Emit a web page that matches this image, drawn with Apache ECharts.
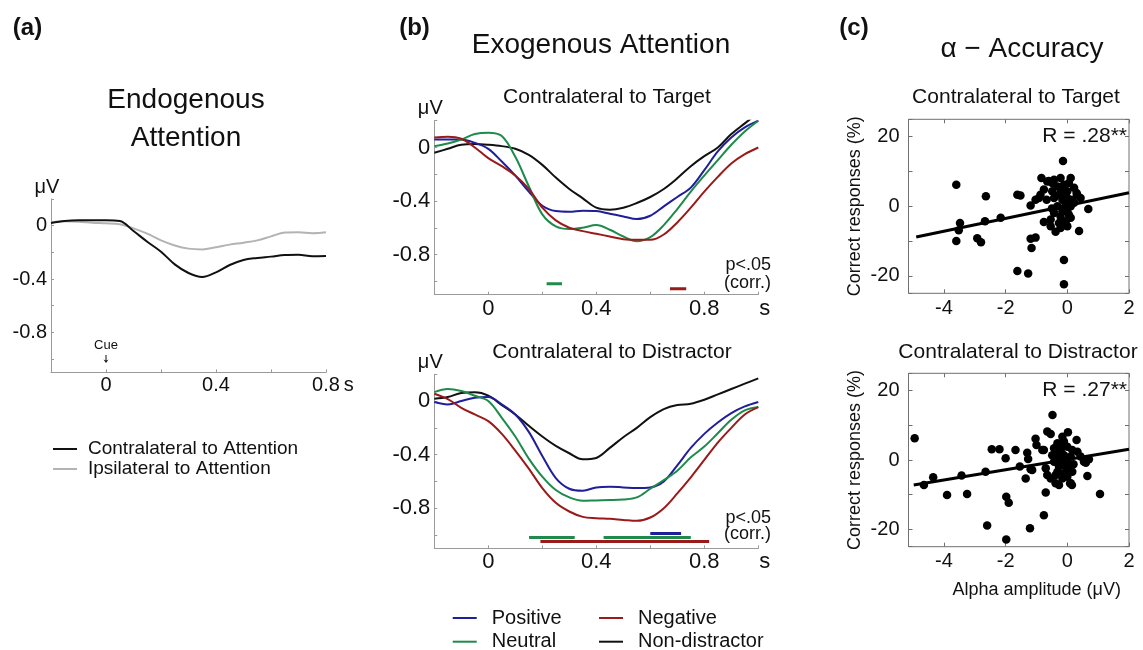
<!DOCTYPE html>
<html><head><meta charset="utf-8">
<script src="https://cdn.jsdelivr.net/npm/echarts@6/dist/echarts.min.js"></script>
<style>html,body{margin:0;padding:0;background:#fff}#c{width:1143px;height:650px}</style>
</head><body><div id="c"></div>
<script>
// ---------- DATA ----------
const timeA = [-0.2,-0.15,-0.1,-0.05,0,0.05,0.1,0.15,0.2,0.25,0.3,0.35,0.4,0.45,0.5,0.55,0.6,0.65,0.7,0.75,0.8];
const contraAttention = [0.02,0.035,0.04,0.04,0.04,0.035,-0.04,-0.12,-0.195,-0.29,-0.355,-0.385,-0.35,-0.295,-0.257,-0.242,-0.232,-0.22,-0.218,-0.23,-0.228];
const ipsiAttention = [0.025,0.033,0.03,0.022,0.018,0.01,-0.02,-0.06,-0.11,-0.148,-0.172,-0.178,-0.162,-0.142,-0.128,-0.11,-0.08,-0.052,-0.05,-0.057,-0.05];
const cueTime = [0];

const timeB = [-0.2,-0.15,-0.1,-0.05,0,0.05,0.1,0.15,0.2,0.25,0.3,0.35,0.4,0.45,0.5,0.55,0.6,0.65,0.7,0.75,0.8,0.85,0.9,0.95,1.0];
const targetPositive = [0.06,0.06,0.06,0.035,-0.01,-0.105,-0.21,-0.33,-0.435,-0.475,-0.48,-0.472,-0.475,-0.495,-0.515,-0.535,-0.51,-0.44,-0.37,-0.3,-0.17,-0.03,0.075,0.15,0.2];
const targetNeutral = [0.01,0.03,0.06,0.1,0.11,0.085,-0.07,-0.29,-0.5,-0.59,-0.61,-0.6,-0.58,-0.615,-0.665,-0.7,-0.67,-0.58,-0.46,-0.33,-0.21,-0.095,0.02,0.12,0.2];
const targetNegative = [0.075,0.08,0.065,0.0,-0.08,-0.14,-0.21,-0.31,-0.45,-0.545,-0.6,-0.625,-0.645,-0.665,-0.685,-0.69,-0.69,-0.65,-0.56,-0.45,-0.33,-0.22,-0.12,-0.05,0.0];
const targetNonDistractor = [-0.04,-0.01,0.02,0.025,0.02,0.01,-0.01,-0.055,-0.13,-0.225,-0.31,-0.38,-0.45,-0.465,-0.45,-0.415,-0.37,-0.31,-0.23,-0.14,-0.065,0.0,0.1,0.18,0.26];

const distractorPositive = [-0.007,-0.025,0.0,0.025,0.03,-0.025,-0.1,-0.23,-0.41,-0.575,-0.655,-0.67,-0.645,-0.64,-0.645,-0.65,-0.645,-0.6,-0.48,-0.35,-0.245,-0.16,-0.09,-0.04,-0.007];
const distractorNeutral = [0.067,0.09,0.075,0.04,0.0,-0.125,-0.265,-0.43,-0.565,-0.665,-0.72,-0.745,-0.742,-0.74,-0.735,-0.72,-0.655,-0.59,-0.52,-0.42,-0.34,-0.24,-0.14,-0.07,-0.045];
const distractorNegative = [0.055,0.015,-0.05,-0.1,-0.15,-0.245,-0.37,-0.505,-0.65,-0.76,-0.825,-0.865,-0.875,-0.88,-0.888,-0.895,-0.87,-0.8,-0.69,-0.57,-0.44,-0.31,-0.2,-0.1,-0.045];
const distractorNonDistractor = [0.017,0.03,0.06,0.065,0.04,-0.03,-0.1,-0.185,-0.265,-0.335,-0.39,-0.435,-0.425,-0.35,-0.27,-0.2,-0.12,-0.06,-0.03,-0.02,0.01,0.05,0.09,0.13,0.17];

// significant time windows (s)
const sigTargetNeutral = [0.216, 0.273];
const sigTargetNegative = [0.673, 0.733];
const sigDistractorNeutralEarly = [0.151, 0.32];
const sigDistractorNeutralLate = [0.427, 0.75];
const sigDistractorPositive = [0.6, 0.714];
const sigDistractorNegative = [0.193, 0.818];

// alpha amplitude (µV) vs correct responses (%)
const alphaTarget = [
[-3.6,6.2],[-2.64,2.9],[-1.62,3.3],[-1.52,3.1],[-3.48,-4.8],[-3.52,-6.9],[-3.6,-10],[-2.92,-9.2],[-2.8,-10.3],[-2.67,-4.3],[-2.16,-3.3],[-1.19,0.2],[-1.19,-9.3],[-1.03,-9],[-1.16,-12],[-1.62,-18.6],[-1.27,-19.3],[-0.11,-15.4],[-0.11,-22.4],[0.68,-0.8],[0.38,-7.1],[-0.14,13],
[-0.84,8.1],[-0.6,7.3],[-0.43,7.6],[-0.22,8.1],[0.11,8.1],[-0.76,4.8],[-0.92,2.4],[-1.03,1.9],[-0.67,1.9],[-0.49,4.3],[-0.32,5.7],[-0.11,6.2],[0,4.3],[0.22,5.3],[0.32,3.3],[0.43,2.4],[0.16,1.9],[-0.16,1.9],[-0.32,0],[-0.11,-0.5],[0.11,0],[-0.43,-1.9],[-0.22,-2.9],[0.05,-2.4],[-0.54,-3.8],[-0.27,-4.8],[-0.05,-4.3],[0.11,-3.3],[-0.76,-4.5],[-0.54,-5.7],[-0.22,-6.2],[0,-5.7],[-0.38,-7.3],[-0.87,3.3],[0,2.4],[0.22,1],[-0.43,2.4],[-0.27,3.3],[-0.11,3.3],[-0.22,5.2],[0.05,6.7],[-0.16,-1.5],[0,-1.4],[-0.5,-0.6],[-0.05,0.8],[-0.65,7.1],[-0.49,6.7],[0.3,3.8]
];
const alphaDistractor = [
[-4.95,6.25],[-4.65,-7.2],[-4.35,-5],[-3.9,-10.1],[-3.43,-4.5],[-3.25,-9.8],[-2.65,-3.4],[-2.45,3.1],[-2.2,3.1],[-2.0,0.5],[-1.98,-10.6],[-1.9,-12.3],[-2.6,-18.9],[-1.98,-22.9],[-1.68,2.9],[-1.54,-1.9],[-1.3,2.1],[-1.27,0.3],[-1.35,-5.3],[-1.19,-2.7],[-1.21,-19.7],[-1.03,6.1],[-1.0,4.3],[-0.76,2.9],[-0.7,-9.4],[-0.76,-15.9],[-0.48,13],[-0.65,8.2],[-0.54,7.5],[0.02,8],[0.3,5.8],[0.09,-6.7],[0.15,-7.2],[0.6,-0.8],[0.7,0.2],[0.65,-4.6],[1.06,-9.8],
[-0.81,2.9],[-1.14,-2.9],[-0.65,-4.3],[-0.54,-5.3],[0.54,-0.5],[-0.38,-6.7],[-0.27,-7.2],[0.11,-6.7],[-0.16,6.7],[-0.11,5.3],[-0.32,4.8],[-0.43,3.4],[-0.22,3.4],[0,3.8],[0.16,2.9],[0.33,2.4],[0.43,1],[-0.49,1.4],[-0.32,1.4],[-0.11,1.4],[0.11,1],[-0.43,-0.5],[-0.22,-0.5],[0,-0.5],[-0.27,-1.9],[-0.05,-1.9],[-0.32,-3.4],[-0.11,-3.8],[-0.16,-5.3],[0,-4.8],[-0.38,-4.3],[0.16,-3.4],[-0.7,-2.4],[-0.05,0.3],[0.05,-2.8],[-0.2,2.2],[0.2,-1.2]
];
const fitTarget = [[-4.9,-8.8],[2,3.9]];
const fitDistractor = [[-4.98,-7.2],[2,3.1]];

const erpXTickLabels = [0, 0.4, 0.8];
const erpYTickLabels = [0, -0.4, -0.8];
const alphaXTickLabels = [-4, -2, 0, 2];
const alphaYTickLabels = [-20, 0, 20];

// ---------- STYLE / BUILD ----------
const FONT = '"Liberation Sans", Arial, sans-serif';
const INK = '#111';
const AX = '#9a9a9a';
const BOX = '#707070';
const C = {pos:'#1f1f9a', neu:'#1e8a4c', neg:'#9a1a1a', non:'#111111', contra:'#111111', ipsi:'#b3b3b3'};

function pick(list){ return v => { const r = Math.round(v*1000)/1000; for (const t of list) if (Math.abs(r - t) < 1e-6) return String(t); return ''; }; }
function zip(xs, ys){ return xs.map((x,i)=>[x, ys[i]]); }
function curve(name, xs, ys, color, idx, extra){
  return Object.assign({type:'line', name, data: zip(xs, ys), xAxisIndex: idx, yAxisIndex: idx, smooth: 0.35,
    symbol:'none', showSymbol:false, clip:true, lineStyle:{color, width:2}, itemStyle:{color}, z:3}, extra||{});
}
function sig(win, level, color, idx){
  return {type:'line', name:'sig', data:[[win[0], level],[win[1], level]], xAxisIndex: idx, yAxisIndex: idx,
    symbol:'none', lineStyle:{color, width:3}, itemStyle:{color}, silent:true, legendHoverLink:false};
}
function erpX(idx, max, nameGap, fs){
  return {gridIndex: idx, type:'value', min:-0.2, max, interval:0.2,
    axisLine:{show:true, onZero:false, lineStyle:{color:AX, width:1}},
    axisTick:{show:true, inside:true, length:3, lineStyle:{color:AX}},
    splitLine:{show:false},
    axisLabel:{margin:3, fontSize:fs, color:INK, fontFamily:FONT, formatter: pick(erpXTickLabels)},
    name:'s', nameLocation:'end', nameGap, nameTextStyle:{fontSize:fs, color:INK, fontFamily:FONT, verticalAlign:'top', padding:[3,0,0,0]}};
}
function erpY(idx, fs){
  return {gridIndex: idx, type:'value', min:-1.1, max:0.2, splitNumber:6,
    axisLine:{show:true, onZero:false, lineStyle:{color:AX, width:1}},
    axisTick:{show:true, inside:true, length:3, lineStyle:{color:AX}},
    splitLine:{show:false},
    axisLabel:{margin:4, fontSize:fs, color:INK, fontFamily:FONT, formatter: pick(erpYTickLabels)},
    name:'μV', nameLocation:'end', nameGap:2, nameTextStyle:{fontSize:20, color:INK, fontFamily:FONT, padding:[0,8,0,0]}};
}
function alphaX(idx, pos, showLabel, name){
  const a = {gridIndex: idx, type:'value', min:-5.15, max:2, splitNumber:3, position: pos,
    axisLine:{show:false, onZero:false}, axisTick:{show:true, inside:true, length:4, lineStyle:{color:BOX}},
    splitLine:{show:false},
    axisLabel:{show:showLabel, margin:5, fontSize:20, color:INK, fontFamily:FONT, formatter: pick(alphaXTickLabels)}};
  if (name) Object.assign(a, {name, nameLocation:'middle', nameGap:34, nameTextStyle:{fontSize:18, color:INK, fontFamily:FONT, padding:[0,0,0,36]}});
  return a;
}
function alphaY(idx, pos, showLabel){
  const a = {gridIndex: idx, type:'value', min:-25, max:25, splitNumber:5, position: pos,
    axisLine:{show:false, onZero:false}, axisTick:{show:true, inside:true, length:4, lineStyle:{color:BOX}},
    splitLine:{show:false},
    axisLabel:{show:showLabel, margin:9, fontSize:20, color:INK, fontFamily:FONT, formatter: pick(alphaYTickLabels)}};
  if (showLabel) Object.assign(a, {name:'Correct responses (%)', nameLocation:'middle', nameGap:44, nameTextStyle:{fontSize:18, color:INK, fontFamily:FONT}});
  return a;
}
function txt(text, x, y, size, align, bold){
  return {type:'text', x, y, silent:true, style:{text, fill:INK, font:(bold?'bold ':'')+size+'px '+FONT,
    align: align||'center', verticalAlign:'middle', textAlign: align||'center', textVerticalAlign:'middle'}};
}

const grids = [
  {left:51, top:199, width:275, height:173.4},
  {left:434.3, top:120.7, width:324, height:174},
  {left:434.3, top:374.3, width:324, height:174},
  {left:908.5, top:119.3, width:220.5, height:174, show:true, borderColor:BOX, borderWidth:1},
  {left:908.5, top:373.3, width:220.5, height:173.4, show:true, borderColor:BOX, borderWidth:1}
].map(g => Object.assign({containLabel:false, outerBoundsMode:'none'}, g));

const xAxes = [erpX(0, 0.8, 4, 20), erpX(1, 1.0, 1, 22), erpX(2, 1.0, 1, 22),
  alphaX(3,'bottom',true), alphaX(4,'bottom',true,'Alpha amplitude (μV)'), alphaX(3,'top',false), alphaX(4,'top',false)];
const yAxes = [erpY(0, 20), erpY(1, 22), erpY(2, 22),
  alphaY(3,'left',true), alphaY(4,'left',true), alphaY(3,'right',false), alphaY(4,'right',false)];

const series = [
  curve('Ipsilateral to Attention', timeA, ipsiAttention, C.ipsi, 0, {
    markPoint:{symbol:'path://M2,0 L3,0 L3,6 L5,5 L2.5,9 L0,5 L2,6 Z', symbolSize:[5,8], itemStyle:{color:INK}, silent:true,
      label:{show:true, position:'top', distance:3, formatter:'Cue', fontSize:13, color:INK, fontFamily:FONT},
      data: cueTime.map(t => ({coord:[t, -1.0]}))}}),
  curve('Contralateral to Attention', timeA, contraAttention, C.contra, 0),
  curve('Non-distractor', timeB, targetNonDistractor, C.non, 1),
  curve('Positive', timeB, targetPositive, C.pos, 1),
  curve('Neutral', timeB, targetNeutral, C.neu, 1),
  curve('Negative', timeB, targetNegative, C.neg, 1),
  curve('Non-distractor', timeB, distractorNonDistractor, C.non, 2),
  curve('Positive', timeB, distractorPositive, C.pos, 2),
  curve('Neutral', timeB, distractorNeutral, C.neu, 2),
  curve('Negative', timeB, distractorNegative, C.neg, 2),
  sig(sigTargetNeutral, -1.018, C.neu, 1),
  sig(sigTargetNegative, -1.055, C.neg, 1),
  sig(sigDistractorPositive, -0.99, C.pos, 2),
  sig(sigDistractorNeutralEarly, -1.02, C.neu, 2),
  sig(sigDistractorNeutralLate, -1.02, C.neu, 2),
  sig(sigDistractorNegative, -1.05, C.neg, 2),
  {type:'scatter', name:'alphaT', data: alphaTarget, xAxisIndex:3, yAxisIndex:3, symbolSize:8.5, itemStyle:{color:'#000', opacity:1}, z:4},
  {type:'line', name:'fitT', data: fitTarget, xAxisIndex:3, yAxisIndex:3, symbol:'none', lineStyle:{color:'#000', width:3}, z:5},
  {type:'scatter', name:'alphaD', data: alphaDistractor, xAxisIndex:4, yAxisIndex:4, symbolSize:8.5, itemStyle:{color:'#000', opacity:1}, z:4},
  {type:'line', name:'fitD', data: fitDistractor, xAxisIndex:4, yAxisIndex:4, symbol:'none', lineStyle:{color:'#000', width:3}, z:5}
];

const legendBase = {orient:'vertical', itemWidth:24, itemHeight:2, icon:'rect', selectedMode:false, padding:0, height:80};
const legends = [
  Object.assign({}, legendBase, {left:53, top:439, itemGap:0, data:['Contralateral to Attention','Ipsilateral to Attention'],
    textStyle:{fontSize:19, lineHeight:20, color:INK, fontFamily:FONT, padding:[0,0,0,6]}}),
  Object.assign({}, legendBase, {left:452.7, top:608, itemGap:3.7, data:['Positive','Neutral'],
    textStyle:{fontSize:20, lineHeight:20, color:INK, fontFamily:FONT, padding:[0,0,0,10]}}),
  Object.assign({}, legendBase, {left:599, top:608, itemGap:3.7, data:['Negative','Non-distractor'],
    textStyle:{fontSize:20, lineHeight:20, color:INK, fontFamily:FONT, padding:[0,0,0,10]}})
];

const graphics = [
  txt('(a)', 27.5, 28, 24, 'center', true),
  txt('(b)', 414.5, 28, 24, 'center', true),
  txt('(c)', 854, 28, 24, 'center', true),
  txt('Endogenous', 186, 100, 28),
  txt('Attention', 186, 138, 28),
  txt('Exogenous Attention', 601, 45, 28),
  txt('α − Accuracy', 1022, 49, 28),
  txt('Contralateral to Target', 607, 97, 21),
  txt('Contralateral to Distractor', 612, 352, 21),
  txt('Contralateral to Target', 1016, 97, 21),
  txt('Contralateral to Distractor', 1018, 352, 21),
  txt('p<.05', 771, 265, 18, 'right'),
  txt('(corr.)', 771, 283, 18, 'right'),
  txt('p<.05', 771, 518, 18, 'right'),
  txt('(corr.)', 771, 534, 18, 'right'),
  txt('R = .28**', 1127, 136, 21, 'right'),
  txt('R = .27**', 1127, 390, 21, 'right')
];

const chart = echarts.init(document.getElementById('c'), null, {renderer:'canvas'});
chart.setOption({
  animation:false, backgroundColor:'#fff',
  textStyle:{fontFamily:FONT},
  grid: grids, xAxis: xAxes, yAxis: yAxes, series, legend: legends, graphic: graphics
});
</script></body></html>
